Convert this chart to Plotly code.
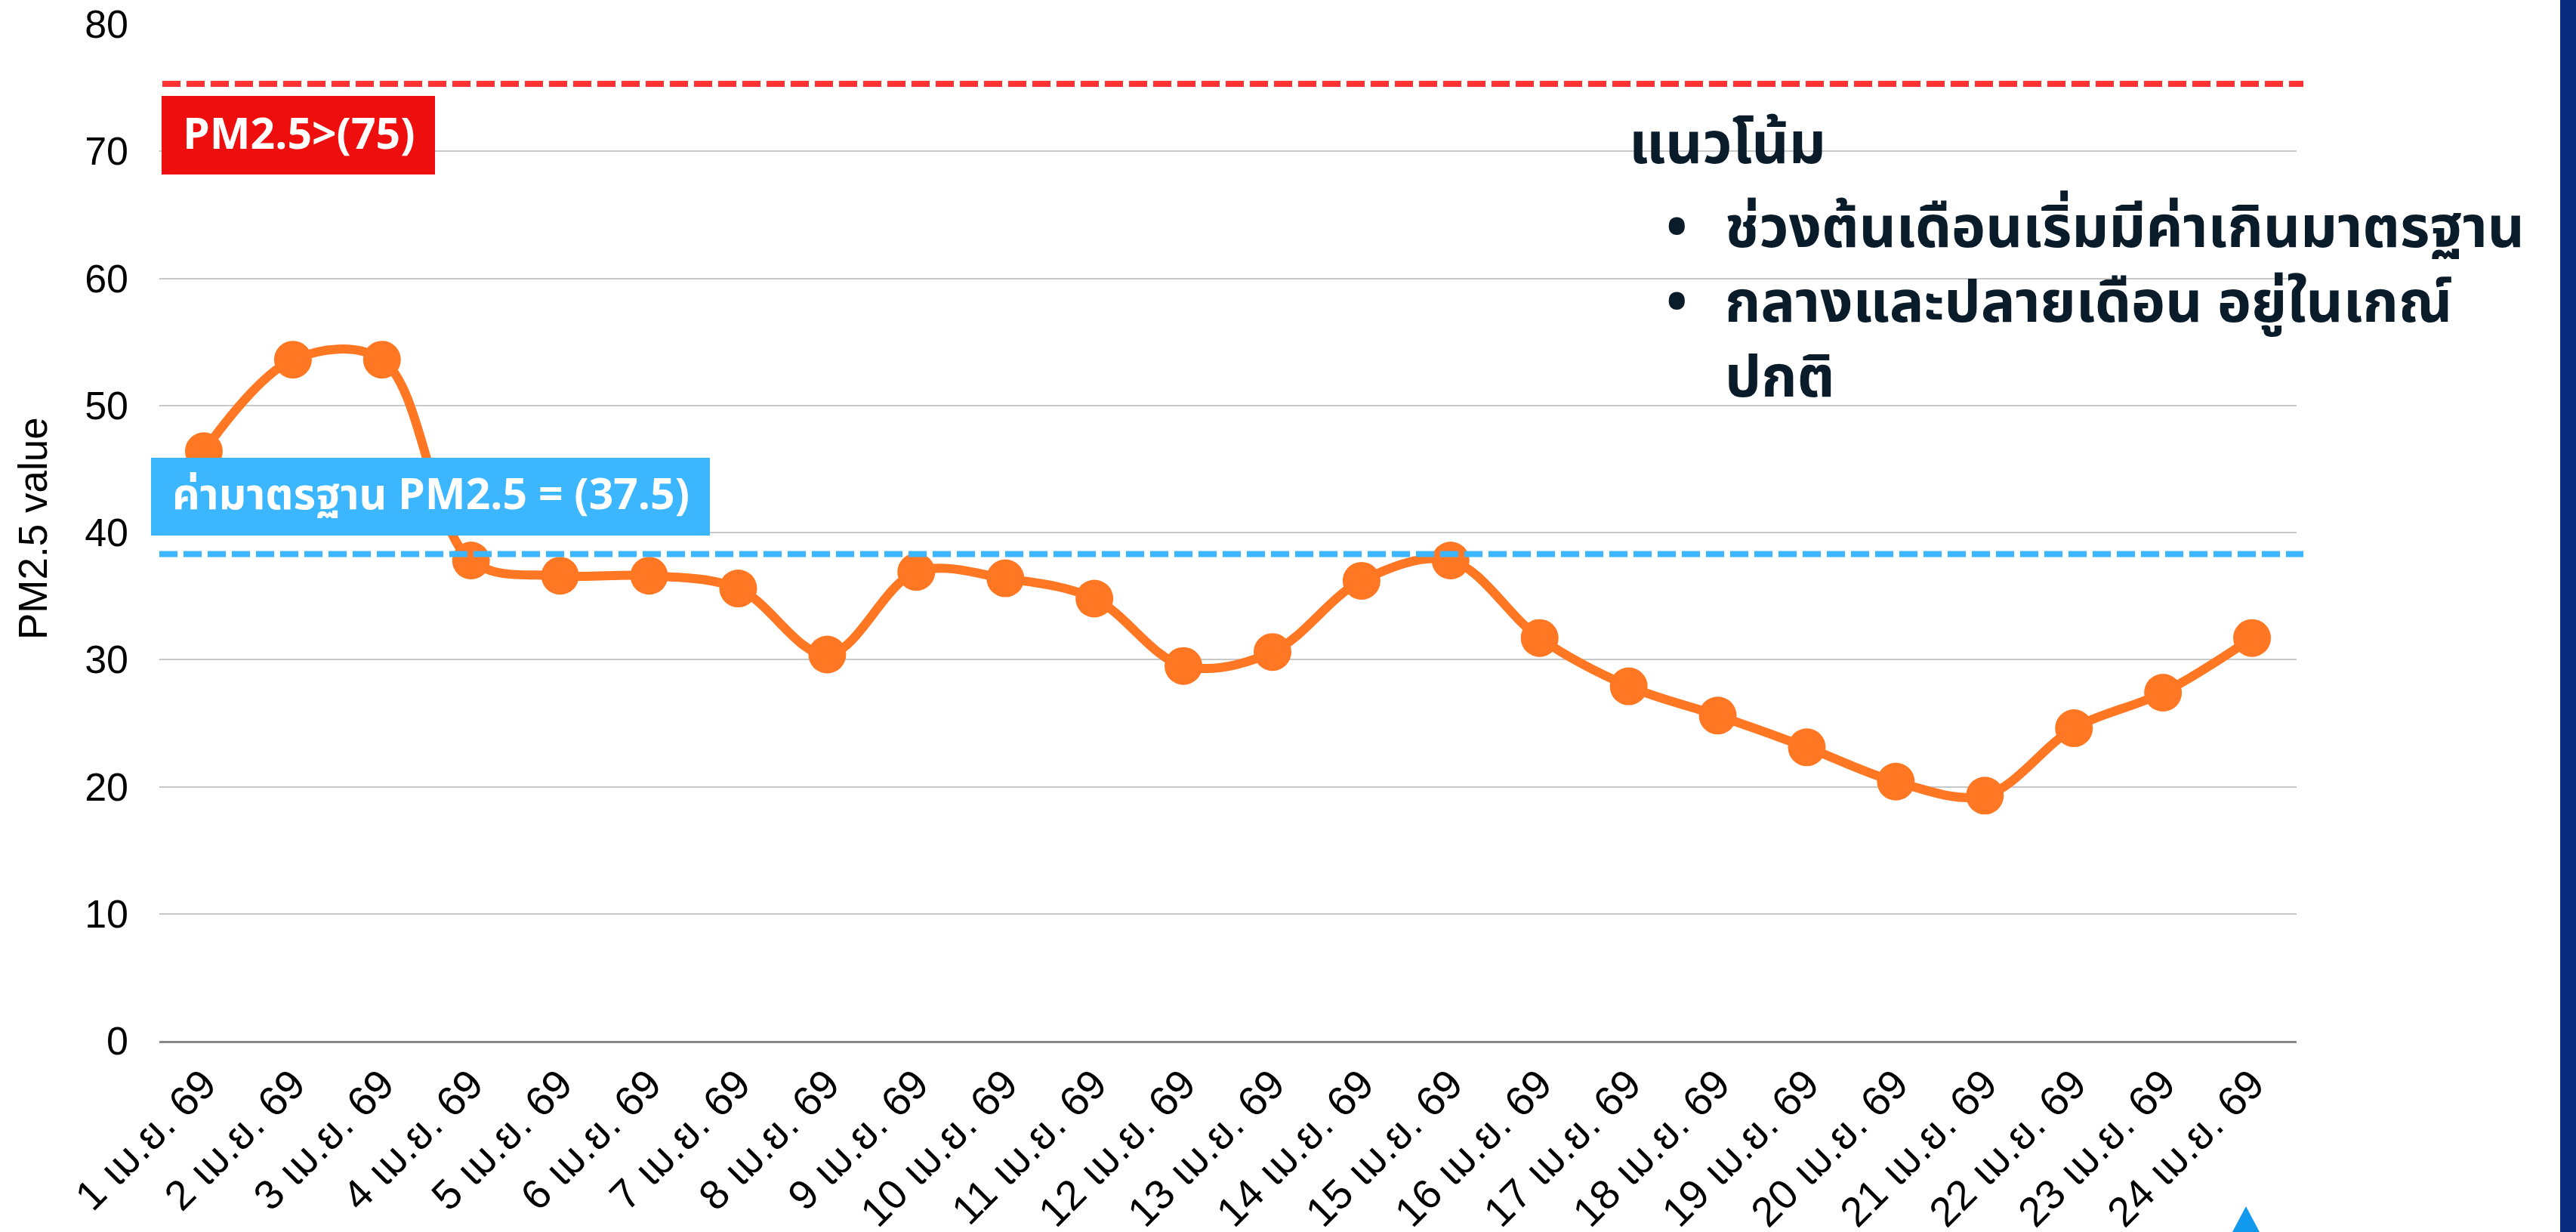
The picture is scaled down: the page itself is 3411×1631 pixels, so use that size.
import plotly.graph_objects as go

# ---- data ----
dates = [f"{d} เม.ย. 69" for d in range(1, 25)]
pm25 = [46.4, 53.6, 53.6, 37.8, 36.6, 36.6, 35.6, 30.4, 36.9, 36.4, 34.8, 29.5,
        30.6, 36.2, 37.8, 31.7, 27.9, 25.6, 23.1, 20.4, 19.3, 24.6, 27.4, 31.7]
limit_high = 75.3
limit_std = 38.3
y_ticks = [0, 10, 20, 30, 40, 50, 60, 70, 80]

label_high = "PM2.5>(75)"
label_std = "ค่ามาตรฐาน PM2.5 = (37.5)"
trend_title = "แนวโน้ม"
trend_lines = ["ช่วงต้นเดือนเริ่มมีค่าเกินมาตรฐาน", "กลางและปลายเดือน อยู่ในเกณ์", "ปกติ"]
trend_bullets = ["•", "•", "&nbsp;"]

# ---- layout geometry (page pixels) ----
FW, FH = 3411, 1631
PAGE_L, PAGE_R, PAGE_T, PAGE_B = 211, 3041, 32, 1378
PW, PH = PAGE_R - PAGE_L, PAGE_B - PAGE_T
L, T, R, B = PAGE_L, PAGE_T, FW - PAGE_R, FH - PAGE_B

def px(x):
    return (x - PAGE_L) / PW

def py(y):
    return (PAGE_B - y) / PH

ORANGE = "rgb(255,119,34)"
BLUE = "rgb(59,182,255)"
RED_LINE = "rgb(255,51,51)"
RED_BOX = "rgb(238,14,14)"
NAVY_TXT = "rgb(10,27,42)"
NUM_FONT = "Liberation Sans, Arial, Noto Sans Thai, sans-serif"
BOLD_FONT = "Noto Sans Thai, Liberation Sans, Arial, sans-serif"

fig = go.Figure()
fig.add_trace(go.Scatter(
    x=dates, y=pm25, mode="lines+markers",
    line=dict(color=ORANGE, width=12, shape="spline", smoothing=1.0),
    marker=dict(color=ORANGE, size=50),
    showlegend=False, hoverinfo="x+y",
))

shapes = [
    dict(type="line", xref="paper", yref="y", x0=px(215), x1=px(3050), y0=limit_high, y1=limit_high,
         line=dict(color=RED_LINE, width=8, dash="24px,8px"), layer="above"),
    dict(type="line", xref="paper", yref="y", x0=px(211), x1=px(3050), y0=limit_std, y1=limit_std,
         line=dict(color=BLUE, width=8, dash="24px,8px"), layer="above"),
    dict(type="rect", xref="paper", yref="paper", x0=px(214), x1=px(576), y0=py(231), y1=py(127),
         fillcolor=RED_BOX, line=dict(width=0), layer="above"),
    dict(type="rect", xref="paper", yref="paper", x0=px(200), x1=px(940), y0=py(709), y1=py(606),
         fillcolor=BLUE, line=dict(width=0), layer="above"),
    dict(type="rect", xref="paper", yref="paper", x0=px(3390), x1=px(3430), y0=py(1650), y1=py(-20),
         fillcolor="rgb(10,42,128)", line=dict(width=0), layer="above"),
    dict(type="path", xref="paper", yref="paper",
         path=f"M {px(2974)} {py(1597)} L {px(3002)} {py(1650)} L {px(2946)} {py(1650)} Z",
         fillcolor="rgb(17,153,238)", line=dict(width=0), layer="above"),
]

annotations = [
    dict(text=f"<b>{label_high}</b>", xref="paper", yref="paper", x=px(395), y=py(180),
         showarrow=False, font=dict(family=BOLD_FONT, size=57, color="white"),
         xanchor="center", yanchor="middle"),
    dict(text=f"<b>{label_std}</b>", xref="paper", yref="paper", x=px(570), y=py(657),
         showarrow=False, font=dict(family=BOLD_FONT, size=57, color="white"),
         xanchor="center", yanchor="middle"),
    dict(text="PM2.5 value", xref="paper", yref="paper", x=px(43), y=py(700), textangle=-90,
         showarrow=False, font=dict(family=NUM_FONT, size=53, color="black"),
         xanchor="center", yanchor="middle"),
    dict(text=f"<b>{trend_title}</b>", xref="paper", yref="paper", x=px(2155), y=py(192),
         showarrow=False, font=dict(family=BOLD_FONT, size=76, color=NAVY_TXT),
         xanchor="left", yanchor="middle"),
    dict(text="<br>".join(f"<b>{t}</b>" for t in trend_lines), xref="paper", yref="paper",
         x=px(2282), y=py(402), align="left",
         showarrow=False, font=dict(family=BOLD_FONT, size=76, color=NAVY_TXT),
         xanchor="left", yanchor="middle"),
    dict(text="<br>".join(f"<b>{b}</b>" for b in trend_bullets), xref="paper", yref="paper",
         x=px(2220), y=py(402), align="center",
         showarrow=False, font=dict(family=BOLD_FONT, size=76, color=NAVY_TXT),
         xanchor="center", yanchor="middle"),
]

fig.update_layout(
    width=FW, height=FH,
    margin=dict(l=L, r=R, t=T, b=B, pad=0, autoexpand=False),
    paper_bgcolor="white", plot_bgcolor="white",
    shapes=shapes, annotations=annotations,
    xaxis=dict(type="category", categoryorder="array", categoryarray=dates,
               range=[-0.5, len(dates) - 0.5], tickangle=-45, automargin=False,
               tickfont=dict(family=NUM_FONT, size=55, color="black"),
               showgrid=False, showline=True, linecolor="rgb(136,136,136)", linewidth=3,
               ticks="", zeroline=False),
    yaxis=dict(range=[0, 80], tickvals=y_ticks, ticks="", automargin=False,
               tickfont=dict(family=NUM_FONT, size=52, color="black"),
               showgrid=True, gridcolor="rgb(200,200,200)", gridwidth=2,
               zeroline=False, showline=False, ticklabelstandoff=40),
)

fig.write_html(
    "out.html",
    config={"displayModeBar": False},
    post_script="document.body.style.margin='0';document.body.style.overflow='hidden';"
                "document.documentElement.style.overflow='hidden';",
)
